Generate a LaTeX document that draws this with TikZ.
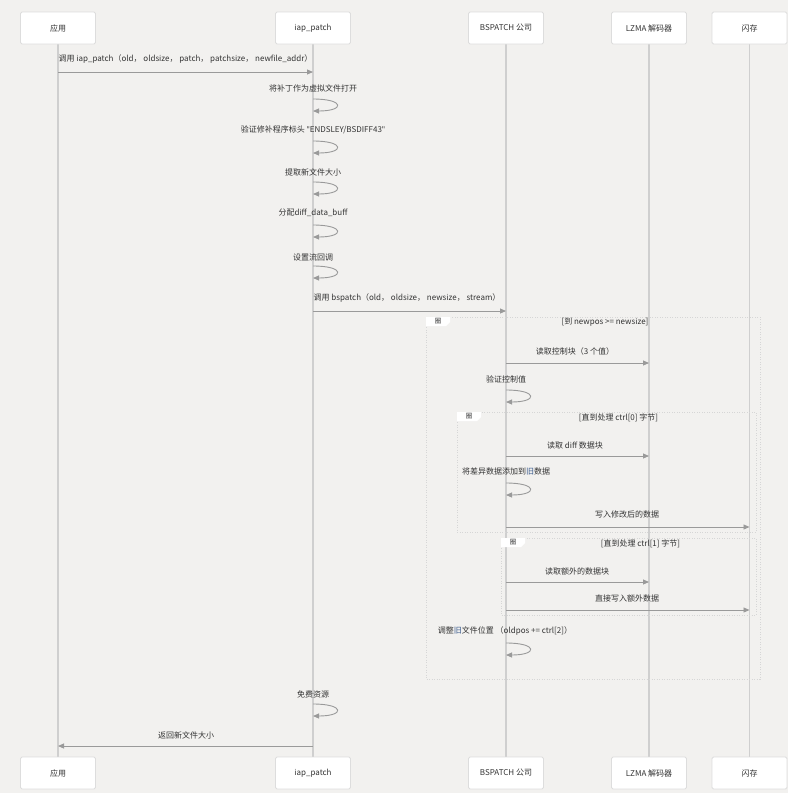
\documentclass[tikz,border=0pt]{standalone}
\usepackage{fontspec}
\setmainfont{Noto Sans CJK SC}
\newfontfamily\latinq{Noto Sans}
\usetikzlibrary{arrows.meta}
\pgfdeclarelayer{bg}
\pgfsetlayers{bg,main}
\definecolor{bgc}{HTML}{F2F1EF}
\definecolor{boxline}{HTML}{DDDDDD}
\definecolor{lifec}{HTML}{CFCFCF}
\definecolor{msgc}{HTML}{9A9A9A}
\definecolor{txtc}{HTML}{333333}
\definecolor{framec}{HTML}{D6D6D6}
\definecolor{oldblue}{HTML}{3A5A8C}
\tikzset{
  part/.style={draw=boxline, fill=white, line width=0.8pt, rounded corners=1.5pt,
    minimum width=75pt, minimum height=32pt, inner sep=0pt, font=\fontsize{8}{9}\selectfont, text=txtc},
  life/.style={draw=lifec, line width=1.5pt},
  msg/.style={draw=msgc, line width=0.9pt, -{Triangle[length=6pt,width=5pt]}},
  lbl/.style={font=\fontsize{8}{9}\selectfont, text=txtc, inner sep=0pt},
  frm/.style={draw=framec, line width=0.8pt, dash pattern=on 1pt off 1.5pt},
  tabtxt/.style={font=\fontsize{6.5}{7}\selectfont, text=txtc, inner sep=0pt}
}
\begin{document}
\begin{tikzpicture}[x=1pt,y=-1pt]
\useasboundingbox (0,0) rectangle (788,793);
% participants
\node[part] (pA)  at (58,28)  {应用};
\node[part] (pB)  at (313,28) {iap\_patch};
\node[part] (pC)  at (506,28) {BSPATCH 公司};
\node[part] (pD)  at (649,28) {LZMA 解码器};
\node[part] (pE)  at (749.5,28) {闪存};
\node[part] (qA)  at (58,773)  {应用};
\node[part] (qB)  at (313,773) {iap\_patch};
\node[part] (qC)  at (506,773) {BSPATCH 公司};
\node[part] (qD)  at (649,773) {LZMA 解码器};
\node[part] (qE)  at (749.5,773) {闪存};
\begin{pgfonlayer}{bg}
\fill[bgc] (0,0) rectangle (788,793);
\draw[life] (pA.center) -- (qA.center);
\draw[life] (pB.center) -- (qB.center);
\draw[life] (pC.center) -- (qC.center);
\draw[life] (pD.center) -- (qD.center);
\draw[life] (pE.center) -- (qE.center);
% loop frames
\draw[frm] (426,317) rectangle (760,679);
\draw[frm] (457,412) rectangle (756,532);
\draw[frm] (501,538) rectangle (756,615);
\end{pgfonlayer}
\fill[white] (426,317) -- (450,317) -- (450,322) -- (446,326) -- (426,326) -- cycle;
\node[tabtxt] (t1) at (438,321.5) {圈};
\node[lbl] (c1) at (605,322) {[到 newpos >= newsize]};
\fill[white] (457,412) -- (481,412) -- (481,417) -- (477,421) -- (457,421) -- cycle;
\node[tabtxt] (t2) at (469,416.5) {圈};
\node[lbl] (c2) at (618.5,418) {[直到处理 ctrl[0] 字节]};
\fill[white] (501,538) -- (525,538) -- (525,543) -- (521,547) -- (501,547) -- cycle;
\node[tabtxt] (t3) at (513,542.5) {圈};
\node[lbl] (c3) at (640.5,544) {[直到处理 ctrl[1] 字节]};
% messages
\coordinate (m1s) at (58,72);  \coordinate (m1e) at (313,72);
\node[lbl] (l1) at (185.5,59) {调用 iap\_patch（old， oldsize， patch， patchsize， newfile\_addr）};
\draw[msg] (m1s) -- (m1e);
% self loops on iap_patch
\foreach \ya/\yb/\nm in {99/111/a, 141/153/b, 182/194/c, 225/237/d, 266/278/e, 704/716/f}{
  \coordinate (s\nm a) at (313,\ya); \coordinate (s\nm b) at (313,\yb);
  \draw[msg] (s\nm a) .. controls (345,\ya) and (345,\yb) .. (s\nm b);
}
\node[lbl] (ls1) at (313,88) {将补丁作为虚拟文件打开};
\node[lbl] (ls2) at (313,130) {验证修补程序标头 {\latinq"}ENDSLEY/BSDIFF43{\latinq"}};
\node[lbl] (ls3) at (313,172) {提取新文件大小};
\node[lbl] (ls4) at (313,213) {分配diff\_data\_buff};
\node[lbl] (ls5) at (313,257) {设置流回调};
\node[lbl] (ls6) at (313,694) {免费资源};
% bspatch call
\coordinate (m7s) at (313,311); \coordinate (m7e) at (506,311);
\node[lbl] (l7) at (407,298) {调用 bspatch（old， oldsize， newsize， stream）};
\draw[msg] (m7s) -- (m7e);
% BSPATCH messages
\coordinate (m8s) at (506,363); \coordinate (m8e) at (649,363);
\node[lbl] (l8) at (575,351) {读取控制块（3 个值）};
\draw[msg] (m8s) -- (m8e);
\coordinate (m10s) at (506,456); \coordinate (m10e) at (649,456);
\node[lbl] (l10) at (575,445) {读取 diff 数据块};
\draw[msg] (m10s) -- (m10e);
\coordinate (m12s) at (506,527); \coordinate (m12e) at (749.5,527);
\node[lbl] (l12) at (627,514) {写入修改后的数据};
\draw[msg] (m12s) -- (m12e);
\coordinate (m13s) at (506,582); \coordinate (m13e) at (649,582);
\node[lbl] (l13) at (577,571) {读取额外的数据块};
\draw[msg] (m13s) -- (m13e);
\coordinate (m14s) at (506,610); \coordinate (m14e) at (749.5,610);
\node[lbl] (l14) at (627,598) {直接写入额外数据};
\draw[msg] (m14s) -- (m14e);
% self loops on BSPATCH
\foreach \ya/\yb/\nm in {390/402/g, 483/495/h, 643/655/i}{
  \coordinate (s\nm a) at (506,\ya); \coordinate (s\nm b) at (506,\yb);
  \draw[msg] (s\nm a) .. controls (538,\ya) and (538,\yb) .. (s\nm b);
}
\node[lbl] (ls7) at (506,379) {验证控制值};
\node[lbl] (ls8) at (506,471) {将差异数据添加到{\color{oldblue}旧}数据};
\node[lbl] (ls9) at (505,631) {调整{\color{oldblue}旧}文件位置 （oldpos += ctrl[2]）};
% return
\coordinate (m17s) at (313,746); \coordinate (m17e) at (58,746);
\node[lbl] (l17) at (186,735) {返回新文件大小};
\draw[msg] (m17s) -- (m17e);
\end{tikzpicture}
\end{document}
